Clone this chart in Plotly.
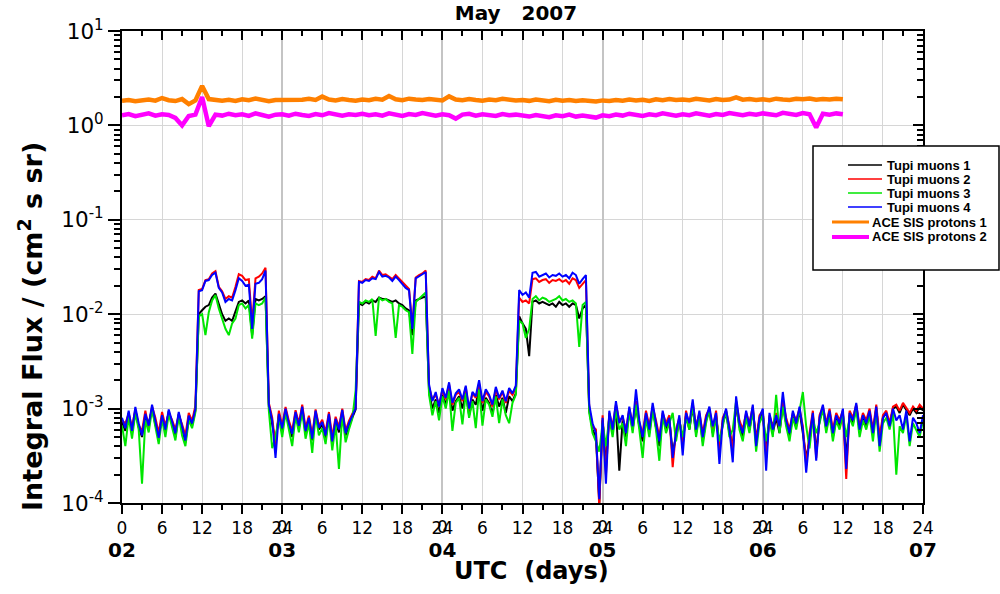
import plotly.graph_objects as go

# Time base: hours since 02 May 2007 00:00 UTC
hours = [0.5 * i for i in range(241)]        # muon telescope, 30-min bins
ace_hours = list(range(109))                 # ACE SIS, hourly bins

# Tupi muon integral flux, in units of 1e-5 (cm^2 s sr)^-1
tupi1_e5 = [
    72, 58, 90, 55, 96, 64, 50, 84, 70, 100, 68, 52, 80, 58, 94, 70, 50, 88, 60, 44, 80, 66, 96,
    1000, 1100, 1200, 1250, 1500, 1650, 1250, 1000, 850, 900, 850, 1050, 1350, 1400, 1300, 1400, 600, 1450, 1400, 1450, 1550,
    105, 70, 45, 85, 58, 96, 66, 50, 88, 62, 100, 55, 76, 46, 90, 60, 68, 48, 84, 42, 74, 56, 92, 52, 66, 80, 98,
    1300, 1250, 1350, 1300, 1400, 1350, 1500, 1450, 1450, 1400, 1350, 1400, 1300, 1250, 1150, 1100, 600, 1400, 1450, 1500, 1550,
    150, 100, 125, 90, 140, 110, 160, 95, 120, 135, 100, 150, 85, 125, 110, 165, 95, 130, 115, 88, 140, 105, 130, 90, 135, 120, 145,
    950, 800, 700, 360, 1350, 1400, 1300, 1350, 1300, 1250, 1300, 1200, 1350, 1250, 1300, 1200, 1300, 1250, 900, 1150, 1250,
    95, 60, 50, 10, 75, 25, 85, 55, 100, 22, 75, 50, 95, 60, 105, 65, 45, 85, 55, 100,
    65, 40, 85, 60, 75, 35, 50, 75, 45, 85, 60, 105, 55, 85, 45, 75, 95, 55, 85, 40,
    70, 90, 55, 40, 110, 65, 50, 85, 60, 95, 48, 75, 90, 35, 80, 55, 80, 55, 110, 70,
    50, 85, 65, 95, 55, 30, 45, 85, 35, 75, 100, 60, 90, 50, 80, 65, 90, 30, 85, 70,
    105, 60, 80, 65, 90, 55, 100, 45, 80, 90, 65, 100, 105, 90, 110, 95, 85, 100, 90, 105,
    95,
]
tupi2_e5 = [
    75, 70, 88, 64, 98, 66, 58, 95, 62, 105, 80, 55, 92, 66, 90, 76, 60, 86, 68, 52, 90, 74, 108,
    1800, 1850, 2300, 2350, 2700, 2850, 1950, 1750, 1450, 1550, 1500, 1950, 2650, 2550, 2300, 2350, 800, 2400, 2500, 2700, 3100,
    115, 80, 40, 95, 66, 104, 74, 58, 96, 70, 110, 62, 84, 52, 98, 66, 76, 56, 92, 50, 82, 64, 100, 58, 74, 90, 105,
    2250, 2200, 2350, 2300, 2500, 2400, 2900, 2600, 2650, 2500, 2350, 2600, 2400, 2200, 2000, 1850, 750, 2450, 2600, 2700, 2900,
    170, 125, 140, 110, 158, 125, 180, 110, 140, 150, 120, 168, 96, 145, 130, 185, 115, 150, 135, 105, 160, 125, 150, 115, 155, 140, 165,
    1500, 1350, 1400, 1300, 2350, 2400, 2200, 2300, 2350, 2150, 2300, 2250, 2350, 2200, 2300, 2100, 2400, 2300, 1900, 2100, 2300,
    100, 65, 60, 9, 85, 20, 90, 65, 110, 75, 80, 60, 100, 70, 120, 70, 55, 95, 65, 105,
    75, 50, 90, 70, 85, 24, 60, 80, 40, 95, 65, 115, 65, 90, 55, 85, 100, 60, 95, 35,
    80, 95, 65, 35, 120, 75, 60, 90, 70, 105, 45, 85, 95, 30, 85, 65, 90, 60, 120, 80,
    60, 90, 75, 100, 65, 25, 55, 95, 30, 85, 105, 70, 100, 60, 90, 75, 95, 18, 95, 80,
    110, 65, 90, 75, 100, 60, 110, 50, 85, 95, 70, 105, 110, 95, 115, 100, 90, 105, 95, 110,
    100,
]
tupi3_e5 = [
    66, 40, 82, 48, 90, 60, 16, 76, 56, 98, 64, 42, 78, 50, 88, 62, 46, 84, 52, 40, 76, 62, 92,
    950, 1000, 600, 1050, 1400, 1600, 1150, 900, 700, 600, 800, 900, 1250, 1300, 1150, 1250, 550, 1300, 1250, 1300, 1500,
    95, 38, 50, 80, 50, 90, 60, 40, 84, 56, 94, 48, 70, 34, 86, 52, 62, 42, 80, 36, 68, 23, 88, 44, 60, 78, 156,
    1350, 1300, 1400, 1350, 1450, 590, 1500, 1400, 1450, 1350, 1300, 560, 1250, 1200, 1100, 1050, 380, 1350, 1450, 1550, 1700,
    140, 85, 120, 75, 135, 100, 155, 58, 115, 130, 68, 145, 80, 120, 62, 160, 66, 125, 110, 82, 135, 70, 125, 85, 70, 115, 140,
    850, 800, 560, 700, 1450, 1550, 1400, 1500, 1450, 1350, 1400, 1450, 1550, 1400, 1450, 1350, 1400, 1300, 450, 1250, 1350,
    90, 55, 45, 35, 70, 40, 80, 50, 95, 60, 70, 40, 95, 55, 110, 60, 30, 80, 50, 95,
    60, 28, 85, 55, 70, 90, 45, 75, 50, 80, 60, 110, 50, 85, 40, 70, 100, 50, 80, 45,
    65, 95, 50, 60, 120, 60, 45, 80, 55, 100, 35, 70, 85, 45, 75, 50, 140, 55, 105, 65,
    45, 80, 60, 95, 150, 65, 38, 80, 55, 70, 100, 55, 85, 45, 75, 60, 85, 50, 80, 65,
    100, 50, 75, 60, 85, 45, 95, 35, 70, 80, 60, 90, 20, 65, 55, 85, 40, 70, 60, 50,
    75,
]
tupi4_e5 = [
    80, 62, 95, 58, 104, 70, 52, 88, 66, 110, 74, 49, 85, 60, 98, 72, 55, 92, 64, 46, 84, 70, 100,
    1750, 1800, 2250, 2300, 2600, 2750, 1900, 1700, 1350, 1450, 1400, 1800, 2400, 2250, 2000, 2050, 700, 2100, 2150, 2350, 2900,
    110, 75, 30, 88, 62, 100, 70, 54, 92, 66, 105, 58, 80, 48, 95, 63, 72, 52, 88, 45, 78, 60, 97, 55, 70, 85, 100,
    2200, 2150, 2300, 2250, 2400, 2350, 2800, 2500, 2550, 2450, 2250, 2500, 2300, 2100, 1900, 1800, 700, 2400, 2500, 2650, 2800,
    180, 120, 150, 105, 165, 130, 190, 115, 145, 160, 125, 175, 100, 150, 135, 200, 120, 160, 140, 110, 170, 130, 155, 120, 165, 145, 175,
    1800, 1600, 1700, 1500, 2750, 2800, 2500, 2600, 2700, 2450, 2600, 2550, 2700, 2500, 2600, 2400, 2750, 2600, 2100, 2350, 2600,
    110, 70, 55, 11, 80, 16, 95, 60, 120, 70, 85, 55, 105, 65, 160, 75, 50, 90, 60, 115,
    70, 45, 95, 65, 80, 30, 55, 85, 32, 90, 70, 125, 60, 95, 50, 80, 105, 65, 90, 26,
    75, 100, 60, 27, 135, 70, 55, 95, 65, 110, 40, 80, 100, 22, 90, 60, 85, 65, 150, 75,
    55, 95, 70, 105, 60, 21, 50, 90, 28, 80, 110, 65, 95, 55, 85, 70, 100, 23, 90, 75,
    115, 60, 85, 70, 95, 55, 105, 40, 80, 90, 65, 100, 75, 85, 60, 95, 45, 80, 70, 55,
    85,
]

# ACE SIS proton integral flux, in units of 0.01 (cm^2 s sr)^-1
ace1_c = [
    182, 186, 180, 184, 188, 183, 195, 185, 181, 190, 168, 184,
    262, 190, 186, 183, 187, 182, 189, 185, 192, 184, 180, 186,
    185, 189, 183, 187, 191, 186, 202, 188, 184, 190, 186, 183,
    188, 185, 191, 187, 205, 189, 185, 192, 188, 186, 190, 187,
    184, 203, 188, 185, 190, 186, 183, 188, 185, 191, 187, 184,
    186, 182, 188, 185, 180, 187, 183, 186, 181, 185, 182, 179,
    184, 181, 186, 183, 188, 184, 187, 182, 189, 185, 190, 186,
    188, 185, 191, 187, 184, 190, 186, 188, 198, 187, 190, 186,
    189, 185, 192, 188, 186, 191, 189, 193, 187, 190, 188, 192,
    189,
]
ace2_c = [
    128, 132, 125, 130, 134, 127, 131, 129, 120, 100, 126, 130,
    200, 98, 130, 127, 133, 128, 131, 126, 134, 129, 124, 130,
    131, 127, 133, 129, 126, 132, 128, 135, 130, 127, 131, 129,
    133, 128, 131, 127, 134, 130, 126, 132, 129, 135, 130, 127,
    131, 128, 118, 130, 133, 127, 131, 129, 126, 132, 128, 130,
    127, 124, 129, 126, 122, 128, 125, 130, 124, 127, 123, 121,
    128, 125, 130, 127, 133, 129, 126, 131, 128, 134, 130, 127,
    131, 128, 134, 130, 127, 132, 129, 135, 131, 128, 133, 130,
    134, 131, 128, 136, 132, 129, 135, 131, 95, 133, 130, 134,
    131,
]

# Axis labels
hour_ticks = list(range(0, 121, 6))
hour_labels = ["0", "6", "12", "18", "24", "6", "12", "18", "24", "6", "12", "18", "24",
               "6", "12", "18", "24", "6", "12", "18", "24"]
midnight_ticks = [24, 48, 72, 96]
midnight_labels = ["0", "0", "0", "0"]
day_ticks = [0, 24, 48, 72, 96, 120]
day_labels = ["02", "03", "04", "05", "06", "07"]
decade_vals = [1e-4, 1e-3, 1e-2, 1e-1, 1, 10]
decade_labels = ["10<sup>-4</sup>", "10<sup>-3</sup>", "10<sup>-2</sup>",
                 "10<sup>-1</sup>", "10<sup>0</sup>", "10<sup>1</sup>"]

black = "#000000"
muon_series = [
    ("Tupi muons 1", tupi1_e5, "#000000"),
    ("Tupi muons 2", tupi2_e5, "#ff0000"),
    ("Tupi muons 3", tupi3_e5, "#00e600"),
    ("Tupi muons 4", tupi4_e5, "#0000ff"),
]
ace_series = [
    ("ACE SIS protons 1", ace1_c, "#ff8000", 3),
    ("ACE SIS protons 2", ace2_c, "#ff00ff", 4),
]

fig = go.Figure()
for name, vals, color in muon_series:
    fig.add_trace(go.Scatter(
        x=hours, y=[v * 1e-5 for v in vals], mode="lines", name=name,
        line=dict(color=color, width=2),
    ))
for name, vals, color, _ in ace_series:
    fig.add_trace(go.Scatter(
        x=ace_hours, y=[v * 0.01 for v in vals], mode="lines", name=name,
        line=dict(color=color, width=4.5),
    ))

# Empty traces that activate the frame axes (top, right) and the extra label rows
for xa, ya in [("x2", "y"), ("x3", "y"), ("x4", "y"), ("x", "y2")]:
    fig.add_trace(go.Scatter(x=[], y=[], xaxis=xa, yaxis=ya, mode="lines",
                             showlegend=False, hoverinfo="skip"))

# Plot-area geometry in pixels, used to place the boxed key
W, H = 1000, 594
ML, MR, MT, MB = 122, 77, 31, 91
PW, PH = W - ML - MR, H - MT - MB


def px(x):
    return (x - ML) / PW


def py(y):
    return (H - MB - y) / PH


shapes = [dict(type="rect", xref="paper", yref="paper", x0=px(813), x1=px(999), y0=py(270), y1=py(146),
               line=dict(color=black, width=1.5), fillcolor="white", layer="above")]
annotations = []
key_font = dict(family="Liberation Sans", size=13, color=black, weight="bold")
row_y = [165, 179, 193, 207, 222, 237]
for (name, _, color), yy in zip(muon_series, row_y[:4]):
    shapes.append(dict(type="line", xref="paper", yref="paper", x0=px(848), x1=px(882), y0=py(yy), y1=py(yy),
                       line=dict(color=color, width=1.3), layer="above"))
    annotations.append(dict(text=name, xref="paper", yref="paper", x=px(885), y=py(yy),
                            xanchor="left", yanchor="middle", showarrow=False, font=key_font))
for (name, _, color, lw), yy in zip(ace_series, row_y[4:]):
    shapes.append(dict(type="line", xref="paper", yref="paper", x0=px(832), x1=px(869), y0=py(yy), y1=py(yy),
                       line=dict(color=color, width=lw), layer="above"))
    annotations.append(dict(text=name, xref="paper", yref="paper", x=px(870), y=py(yy),
                            xanchor="left", yanchor="middle", showarrow=False, font=key_font))

annotations += [
    dict(text="Integral Flux / (cm<sup>2</sup> s sr)", xref="paper", yref="paper",
         x=px(30), y=py(327), xanchor="center", yanchor="middle", textangle=-90, showarrow=False,
         font=dict(family="DejaVu Sans", size=27, color=black, weight="bold")),
    dict(text="UTC\u00a0\u00a0(days)", xref="paper", yref="paper",
         x=px(531), y=py(571), xanchor="center", yanchor="middle", showarrow=False,
         font=dict(family="DejaVu Sans", size=24, color=black, weight="bold")),
]

hour_font = dict(family="DejaVu Sans", size=17, color=black)

fig.update_layout(
    width=W, height=H,
    margin=dict(l=ML, r=MR, t=MT, b=MB),
    paper_bgcolor="white", plot_bgcolor="white",
    showlegend=False,
    title=dict(text="May\u00a0\u00a0\u00a02007", x=0.516, y=0.978, xanchor="center", yanchor="middle",
               font=dict(family="DejaVu Sans", size=20, color=black, weight="bold")),
    xaxis=dict(
        range=[0, 120], tickmode="array", tickvals=hour_ticks, ticktext=hour_labels,
        ticks="outside", ticklen=9, tickwidth=2, tickcolor=black,
        showline=True, linewidth=2, linecolor=black, zeroline=False,
        showgrid=True, gridcolor="#d6d6d6", gridwidth=1.2,
        minor=dict(tick0=0, dtick=3, ticks="outside", ticklen=5, tickwidth=2, tickcolor=black, showgrid=False),
        tickfont=hour_font,
    ),
    xaxis2=dict(
        overlaying="x", side="top", range=[0, 120], tickmode="linear", tick0=0, dtick=6,
        ticks="inside", ticklen=9, tickwidth=2, tickcolor=black, showticklabels=False,
        showline=True, linewidth=2, linecolor=black, showgrid=False, zeroline=False,
        minor=dict(tick0=0, dtick=3, ticks="inside", ticklen=5, tickwidth=2, tickcolor=black, showgrid=False),
    ),
    xaxis3=dict(
        overlaying="x", side="bottom", range=[0, 120], tickmode="array",
        tickvals=midnight_ticks, ticktext=midnight_labels,
        ticks="outside", ticklen=9, tickwidth=2, tickcolor="rgba(0,0,0,0)",
        showline=False, showgrid=False, zeroline=False, tickfont=hour_font,
    ),
    xaxis4=dict(
        overlaying="x", side="bottom", range=[0, 120], tickmode="array",
        tickvals=day_ticks, ticktext=day_labels, ticks="", ticklabelstandoff=33,
        showline=False, showgrid=True, gridcolor="#c4c4c4", gridwidth=2, zeroline=False,
        tickfont=dict(family="DejaVu Sans", size=20, color=black, weight="bold"),
    ),
    yaxis=dict(
        type="log", range=[-4, 1], tickmode="array", tickvals=decade_vals, ticktext=decade_labels,
        ticks="outside", ticklen=12, tickwidth=2, tickcolor=black,
        showline=True, linewidth=2, linecolor=black, zeroline=False,
        showgrid=True, gridcolor="#d6d6d6", gridwidth=1.2,
        minor=dict(dtick="D1", ticks="outside", ticklen=6, tickwidth=1.5, tickcolor=black, showgrid=False),
        tickfont=dict(family="DejaVu Sans", size=21.5, color=black),
    ),
    yaxis2=dict(
        overlaying="y", side="right", type="log", range=[-4, 1], tickmode="array", tickvals=decade_vals,
        ticks="inside", ticklen=10, tickwidth=2, tickcolor=black, showticklabels=False,
        showline=True, linewidth=2, linecolor=black, showgrid=False, zeroline=False,
        minor=dict(dtick="D1", ticks="inside", ticklen=6, tickwidth=1.5, tickcolor=black, showgrid=False),
    ),
    shapes=shapes,
    annotations=annotations,
)

fig.write_html("out.html")
